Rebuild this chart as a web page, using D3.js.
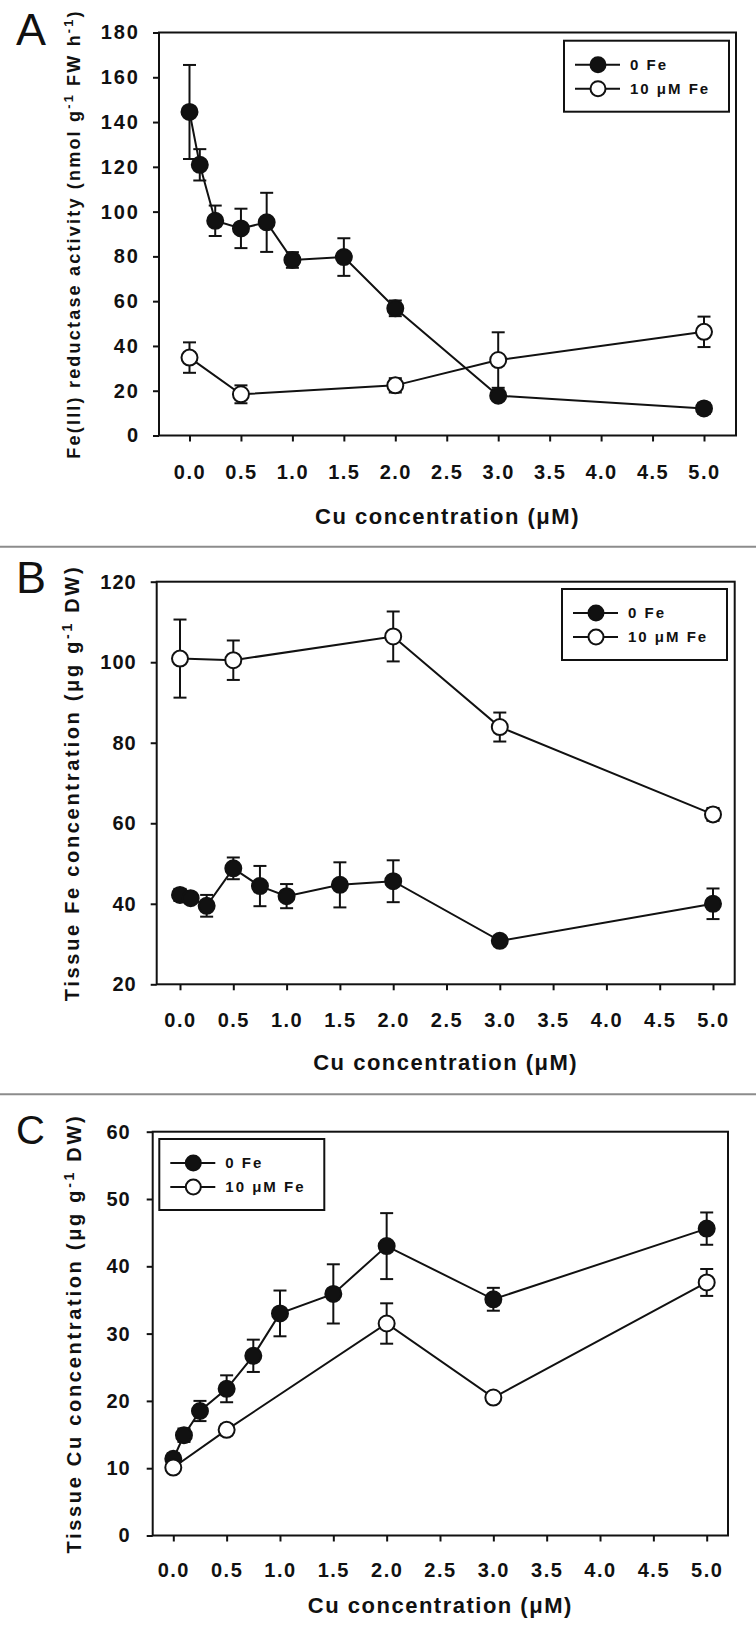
<!DOCTYPE html>
<html>
<head>
<meta charset="utf-8">
<script src="https://cdn.jsdelivr.net/npm/d3@7"></script>
<style>
  body { margin: 0; background: #fff; }
  text { font-family: "Liberation Sans", Arial, sans-serif; font-weight: bold; fill: #111; white-space: pre; }
</style>
</head>
<body>
<svg id="figure" width="756" height="1638"></svg>
<script>
// Cu levels in the nutrient solution (uM)
var cuLevels = [0, 0.1, 0.25, 0.5, 0.75, 1.0, 1.5, 2.0, 3.0, 5.0];
var cuLevelsFe = [0, 0.5, 2.0, 3.0, 5.0];
var xTicks = [0, 0.5, 1.0, 1.5, 2.0, 2.5, 3.0, 3.5, 4.0, 4.5, 5.0];
var seriesNames = ["0 Fe", "10 \u03bcM Fe"];

// A: Fe(III) reductase activity
var reductaseTicks = [0, 20, 40, 60, 80, 100, 120, 140, 160, 180];
var reductaseNoFe = [144.5, 120.9, 95.9, 92.5, 95.2, 78.4, 79.7, 56.8, 17.8, 12.1];
var reductaseNoFeErr = [21, 7, 6.8, 8.8, 13.2, 3.5, 8.4, 3.5, 2, 2.5];
var reductaseFe = [34.8, 18.4, 22.4, 33.7, 46.3];
var reductaseFeErr = [6.8, 4, 3.2, 12.4, 6.8];

// B: tissue Fe
var tissueFeTicks = [20, 40, 60, 80, 100, 120];
var tissueFeNoFe = [42.2, 41.4, 39.5, 48.8, 44.4, 41.9, 44.7, 45.6, 30.8, 40.0];
var tissueFeNoFeErr = [1.5, 1.2, 2.7, 2.7, 5.0, 3.0, 5.6, 5.2, 0.8, 3.8];
var tissueFeFe = [100.9, 100.5, 106.4, 83.9, 62.2];
var tissueFeFeErr = [9.7, 4.9, 6.2, 3.6, 1.6];

// C: tissue Cu
var tissueCuTicks = [0, 10, 20, 30, 40, 50, 60];
var tissueCuNoFe = [11.4, 14.9, 18.5, 21.8, 26.7, 33.0, 35.9, 43.0, 35.1, 45.6];
var tissueCuNoFeErr = [0.8, 1.0, 1.5, 2.0, 2.4, 3.4, 4.4, 4.9, 1.7, 2.4];
var tissueCuFe = [10.1, 15.7, 31.5, 20.5, 37.6];
var tissueCuFeErr = [0.5, 0.8, 3.0, 0.5, 2.0];

var INK = "#111";

class ConcPanel {
  constructor(svg, opts) {
    this.svg = svg;
    this.opts = opts;
    this.x = d3.scaleLinear().domain([0, 5]).range([opts.x0, opts.x5]);
    this.y = d3.scaleLinear().domain([opts.ticks[0], opts.ticks[opts.ticks.length - 1]])
      .range([opts.bottom, opts.top]);
  }

  draw() {
    var o = this.opts, x = this.x, y = this.y;
    var g = this.svg.append("g");

    g.append("text")
      .attr("x", o.letterPos[0]).attr("y", o.letterPos[1])
      .style("font-weight", "normal").style("font-size", o.letterSize + "px")
      .text(o.letter);

    var xAxis = g.append("g")
      .attr("transform", "translate(0," + o.bottom + ")")
      .call(d3.axisBottom(x).tickValues(xTicks).tickFormat(d3.format(".1f")).tickSize(6));
    xAxis.select(".domain").remove();
    xAxis.selectAll("line").attr("stroke", INK).attr("stroke-width", 2);
    xAxis.selectAll("text")
      .attr("y", o.xLabelOffset).attr("dy", "0.35em")
      .style("font-size", "20px").style("letter-spacing", "1.5px");

    var yAxis = g.append("g")
      .attr("transform", "translate(" + o.left + ",0)")
      .call(d3.axisLeft(y).tickValues(o.ticks).tickSize(6).tickPadding(o.yPad));
    yAxis.select(".domain").remove();
    yAxis.selectAll("line").attr("stroke", INK).attr("stroke-width", 2);
    yAxis.selectAll("text")
      .style("font-size", "20px").style("letter-spacing", o.yLetter + "px");

    g.append("rect")
      .attr("x", o.left).attr("y", o.top)
      .attr("width", o.right - o.left).attr("height", o.bottom - o.top)
      .attr("fill", "none").attr("stroke", INK).attr("stroke-width", 2);

    // x title
    g.append("text")
      .attr("x", (o.left + o.right) / 2).attr("y", o.bottom + o.titleOffset)
      .attr("dy", "0.35em").attr("text-anchor", "middle")
      .style("font-size", "22px").style("letter-spacing", "1.5px")
      .text("Cu concentration (\u03bcM)");

    // y title with superscripts
    var yt = g.append("text")
      .attr("transform", "translate(" + o.yTitleX + "," + (o.top + o.bottom) / 2 + ") rotate(-90)")
      .attr("text-anchor", "middle")
      .style("font-size", o.yTitleSize + "px").style("letter-spacing", o.yTitleLetter + "px");
    o.yTitle.forEach(function(part) {
      var t = yt.append("tspan").text(part[0]);
      if (part[1] == 1) t.attr("dy", -7).style("font-size", (o.yTitleSize * 0.7) + "px");
      if (part[1] == -1) t.attr("dy", 7);
    });

    var self = this;
    o.series.forEach(function(s) { self.drawErrors(g, s); });
    o.series.forEach(function(s) { self.drawLine(g, s); });
    o.series.forEach(function(s) { self.drawMarkers(g, s); });

    this.drawLegend(g);
  }

  drawErrors(g, s) {
    var x = this.x, y = this.y;
    var pts = s.xs.map(function(v, i) { return { x: v, y: s.ys[i], e: s.err[i] }; });
    var eb = g.append("g").attr("stroke", INK).attr("stroke-width", 2);
    eb.selectAll(".bar").data(pts).enter().append("line")
      .attr("x1", function(d) { return x(d.x); }).attr("x2", function(d) { return x(d.x); })
      .attr("y1", function(d) { return y(d.y - d.e); }).attr("y2", function(d) { return y(d.y + d.e); });
    [-1, 1].forEach(function(sign) {
      eb.selectAll(".cap" + sign).data(pts).enter().append("line")
        .attr("x1", function(d) { return x(d.x) - 6.5; }).attr("x2", function(d) { return x(d.x) + 6.5; })
        .attr("y1", function(d) { return y(d.y + sign * d.e); })
        .attr("y2", function(d) { return y(d.y + sign * d.e); });
    });
  }

  drawLine(g, s) {
    var x = this.x, y = this.y;
    var line = d3.line().x(function(d) { return x(d[0]); }).y(function(d) { return y(d[1]); });
    g.append("path")
      .datum(s.xs.map(function(v, i) { return [v, s.ys[i]]; }))
      .attr("d", line).attr("fill", "none").attr("stroke", INK).attr("stroke-width", 2);
  }

  drawMarkers(g, s) {
    var x = this.x, y = this.y;
    g.append("g").selectAll("circle")
      .data(s.xs.map(function(v, i) { return [v, s.ys[i]]; }))
      .enter().append("circle")
      .attr("cx", function(d) { return x(d[0]); })
      .attr("cy", function(d) { return y(d[1]); })
      .attr("r", 8)
      .attr("fill", s.filled ? INK : "#fff")
      .attr("stroke", INK).attr("stroke-width", 2);
  }

  drawLegend(g) {
    var o = this.opts;
    var lg = g.append("g").attr("transform", "translate(" + o.legendPos[0] + "," + o.legendPos[1] + ")");
    lg.append("rect").attr("width", 165).attr("height", 71)
      .attr("fill", "#fff").attr("stroke", INK).attr("stroke-width", 2);
    seriesNames.forEach(function(name, i) {
      var ry = 24 + i * 24;
      lg.append("line").attr("x1", 11).attr("x2", 56).attr("y1", ry).attr("y2", ry)
        .attr("stroke", INK).attr("stroke-width", 2);
      lg.append("circle").attr("cx", 34).attr("cy", ry).attr("r", 7.5)
        .attr("fill", i == 0 ? INK : "#fff").attr("stroke", INK).attr("stroke-width", 2);
      lg.append("text").attr("x", 66).attr("y", ry).attr("dy", "0.35em")
        .style("font-size", "15px").style("letter-spacing", "2px")
        .text(name);
    });
  }
}

var svg = d3.select("#figure");

// grey rules between the panels
[546.7, 1094.3].forEach(function(ry) {
  svg.append("line").attr("x1", 0).attr("x2", 756).attr("y1", ry).attr("y2", ry)
    .attr("stroke", "#8c8c8c").attr("stroke-width", 2);
});

new ConcPanel(svg, {
  letter: "A", letterPos: [16, 45], letterSize: 45,
  left: 159, right: 736, top: 32.5, bottom: 435.5, x0: 189.5, x5: 704,
  ticks: reductaseTicks, yPad: 13, yLetter: 2,
  xLabelOffset: 36, titleOffset: 80.5,
  yTitleX: 80, yTitleSize: 18, yTitleLetter: 2.2,
  yTitle: [["Fe(III) reductase activity (nmol g", 0], ["-1", 1], [" FW h", -1], ["-1", 1], [")", -1]],
  legendPos: [564, 40.7],
  series: [
    { xs: cuLevels, ys: reductaseNoFe, err: reductaseNoFeErr, filled: true },
    { xs: cuLevelsFe, ys: reductaseFe, err: reductaseFeErr, filled: false }
  ]
}).draw();

new ConcPanel(svg, {
  letter: "B", letterPos: [16, 593], letterSize: 45,
  left: 156.7, right: 734.7, top: 581.7, bottom: 984.3, x0: 180, x5: 713,
  ticks: tissueFeTicks, yPad: 14, yLetter: 1,
  xLabelOffset: 36, titleOffset: 77.5,
  yTitleX: 79, yTitleSize: 20, yTitleLetter: 2.7,
  yTitle: [["Tissue Fe concentration (\u03bcg g", 0], ["-1", 1], [" DW)", -1]],
  legendPos: [562, 589],
  series: [
    { xs: cuLevels, ys: tissueFeNoFe, err: tissueFeNoFeErr, filled: true },
    { xs: cuLevelsFe, ys: tissueFeFe, err: tissueFeFeErr, filled: false }
  ]
}).draw();

new ConcPanel(svg, {
  letter: "C", letterPos: [16, 1144], letterSize: 40,
  left: 152.7, right: 728, top: 1131.7, bottom: 1535.5, x0: 173.3, x5: 706.7,
  ticks: tissueCuTicks, yPad: 16, yLetter: 1,
  xLabelOffset: 34.5, titleOffset: 69.5,
  yTitleX: 81, yTitleSize: 20, yTitleLetter: 2.7,
  yTitle: [["Tissue Cu concentration (\u03bcg g", 0], ["-1", 1], [" DW)", -1]],
  legendPos: [159.3, 1139],
  series: [
    { xs: cuLevels, ys: tissueCuNoFe, err: tissueCuNoFeErr, filled: true },
    { xs: cuLevelsFe, ys: tissueCuFe, err: tissueCuFeErr, filled: false }
  ]
}).draw();
</script>
</body>
</html>
